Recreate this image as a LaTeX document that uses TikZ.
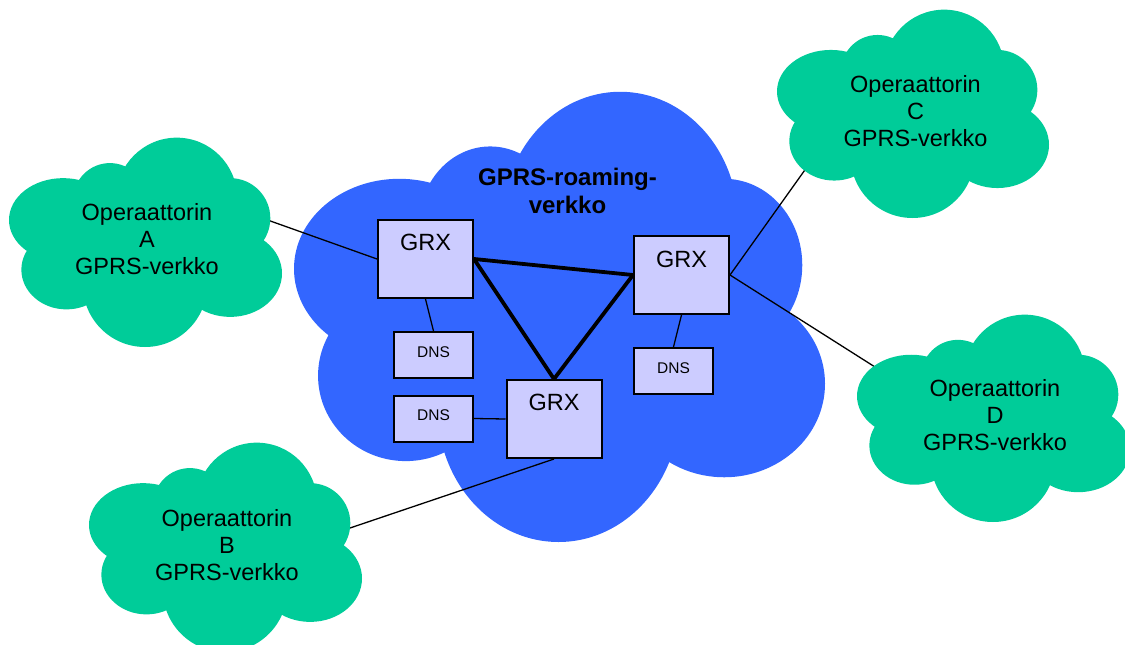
\documentclass[tikz,border=0pt]{standalone}
\usepackage{fontspec}
\setmainfont{Liberation Sans}
\definecolor{cloudblue}{RGB}{51,102,255}
\definecolor{cloudgreen}{RGB}{0,204,153}
\definecolor{boxfill}{RGB}{204,204,255}
% cloud as union of lobes: #1,#2 top-left corner, #3 width, #4 height, #5 colour
\newcommand{\mycloud}[5]{%
  \fill[#5]
    ({#1+#3*0.504},{#2+#4*0.504}) ellipse [x radius={#3*0.367*1pt}, y radius={#4*0.32*1pt}]
    ({#1+#3*0.1983},{#2+#4*0.392}) ellipse [x radius={#3*0.1983*1pt}, y radius={#4*0.2*1pt}]
    ({#1+#3*0.3696},{#2+#4*0.296}) ellipse [x radius={#3*0.1346*1pt}, y radius={#4*0.176*1pt}]
    ({#1+#3*0.6144},{#2+#4*0.288}) ellipse [x radius={#3*0.2215*1pt}, y radius={#4*0.2896*1pt}]
    ({#1+#3*0.8103},{#2+#4*0.384}) ellipse [x radius={#3*0.1469*1pt}, y radius={#4*0.192*1pt}]
    ({#1+#3*0.8103},{#2+#4*0.648}) ellipse [x radius={#3*0.1897*1pt}, y radius={#4*0.208*1pt}]
    ({#1+#3*0.4982},{#2+#4*0.7024}) ellipse [x radius={#3*0.2277*1pt}, y radius={#4*0.2976*1pt}]
    ({#1+#3*0.2105},{#2+#4*0.63}) ellipse [x radius={#3*0.1652*1pt}, y radius={#4*0.19*1pt}];}
\begin{document}
\begin{tikzpicture}[x=1pt,y=-1pt,
  grxbox/.style={draw=black, line width=2pt, fill=boxfill, minimum width=95pt, minimum height=78pt, inner sep=0pt},
  dnsbox/.style={draw=black, line width=2pt, fill=boxfill, minimum width=79pt, minimum height=46pt, inner sep=0pt},
  grxtext/.style={inner sep=0pt, font=\fontsize{23.5}{27}\selectfont},
  dnstext/.style={inner sep=0pt, font=\fontsize{15.5}{18}\selectfont},
  cloudtext/.style={align=center, inner sep=0pt, font=\fontsize{23.5}{26.7}\selectfont},
  roamtext/.style={align=center, inner sep=0pt, font=\fontsize{24}{27.3}\selectfont\bfseries},
  conn/.style={line width=1.3pt},
  backbone/.style={line width=3.8pt}]
\useasboundingbox (0,0) rectangle (1125,645);

% central roaming cloud
\mycloud{294}{92.5}{531}{449.5}{cloudblue}
\node[roamtext] (roam) at (567.5,191) {GPRS-roaming-\\verkko};

% GRX and DNS boxes
\node[grxbox] (g1) at (425.5,259) {};
\node[grxbox] (g2) at (681.5,275) {};
\node[grxbox] (g3) at (554,419) {};
\node[dnsbox] (d1) at (433.5,355) {};
\node[dnsbox] (d2) at (673.5,371) {};
\node[dnsbox] (d3) at (433.5,418.5) {};
\node[grxtext] (g1t) at (425.5,242) {GRX};
\node[grxtext] (g2t) at (681.5,259) {GRX};
\node[grxtext] (g3t) at (554,402) {GRX};
\node[dnstext] (d1t) at (433.5,351.7) {DNS};
\node[dnstext] (d2t) at (673.5,367.7) {DNS};
\node[dnstext] (d3t) at (433.5,415.2) {DNS};

% links inside the roaming network
\draw[conn] (g1.south) -- (d1.north);
\draw[conn] (g2.south) -- (d2.north);
\draw[conn] (d3.east) -- (g3.west);
\draw[backbone] (g1.east) -- (g2.west);
\draw[backbone] (g1.east) -- (g3.north);
\draw[backbone] (g2.west) -- (g3.north);

% links to operator networks
\coordinate (eA) at (269.5,220.7);
\coordinate (eB) at (350,528);
\coordinate (eC) at (807,167);
\coordinate (eD) at (875,367);
\draw[conn] (g1.west) -- (eA);
\draw[conn] (g3.south) -- (eB);
\draw[conn] (g2.east) -- (eC);
\draw[conn] (g2.east) -- (eD);

% operator clouds
\mycloud{9}{138}{273}{209}{cloudgreen}
\mycloud{89}{443}{273}{209}{cloudgreen}
\mycloud{777}{10}{272}{208}{cloudgreen}
\mycloud{857}{315}{273}{207}{cloudgreen}
\node[cloudtext] (tA) at (147,239) {Operaattorin\\A\\GPRS-verkko};
\node[cloudtext] (tB) at (227,545) {Operaattorin\\B\\GPRS-verkko};
\node[cloudtext] (tC) at (915.5,111) {Operaattorin\\C\\GPRS-verkko};
\node[cloudtext] (tD) at (995,415) {Operaattorin\\D\\GPRS-verkko};
\end{tikzpicture}
\end{document}
